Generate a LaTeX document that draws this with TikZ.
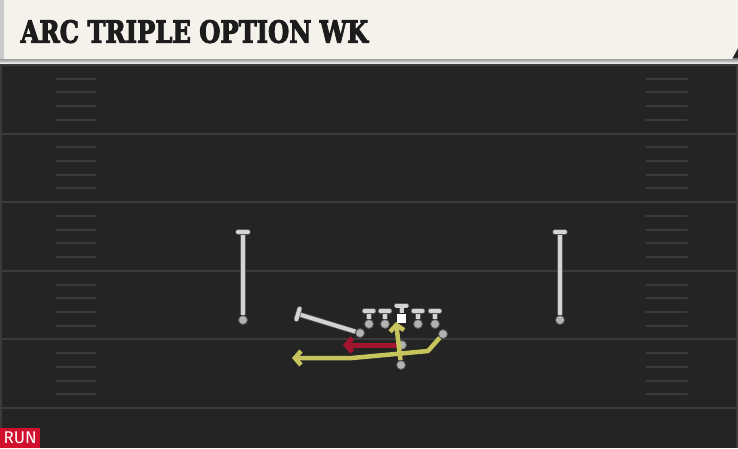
\documentclass[tikz,border=0pt]{standalone}
\usepackage{fontspec}
\newfontfamily\titlefont{DejaVu Serif}[FakeBold=3.5]
\newfontfamily\tagfont{Fira Sans}
\usetikzlibrary{arrows.meta,calc}
\definecolor{field}{HTML}{242424}
\definecolor{shade}{HTML}{161616}
\definecolor{yardline}{HTML}{3A3A3A}
\definecolor{cream}{HTML}{F5F2EB}
\definecolor{ink}{HTML}{1C1C1C}
\definecolor{chalk}{HTML}{D4D4D4}
\definecolor{rim}{HTML}{555555}
\definecolor{dot}{HTML}{B2B2B2}
\definecolor{runred}{HTML}{A3142F}
\definecolor{optyellow}{HTML}{C6C45C}
\definecolor{tagred}{HTML}{D0102C}
\tikzset{every node/.style={inner sep=0pt}, >={Straight Barb[length=6pt,width=14pt]},
  player/.style={circle, fill=dot, draw=rim, line width=0.8pt, minimum size=9pt},
  snap/.style={fill=white, minimum size=9pt},
  stem/.style={draw=rim, line width=5.5pt, postaction={draw=chalk, line width=4pt}},
  tcap/.style={draw=rim, line width=5.5pt, line cap=round, postaction={draw=chalk, line width=4pt}},
  yard/.style={yardline, line width=2pt},
  hash/.style={yardline, line width=2pt, line cap=round},
  runpath/.style={runred, line width=5pt},
  optpath/.style={optyellow, line width=4.5pt, line join=round}}

\begin{document}
\begin{tikzpicture}[x=1pt, y=-1pt]
  \useasboundingbox (0,0) rectangle (738,448);
  % field
  \fill[field] (0,0) rectangle (738,448);
  \fill[shade] (0,58) rectangle (738,64);
  \foreach \k in {0,...,5}
    \draw[yard] (0,65+68.6*\k) -- (738,65+68.6*\k);
  \foreach \k in {0,...,4}
    \foreach \h in {1,...,4} {
      \draw[hash] (56,65+68.6*\k+13.7*\h) -- (96,65+68.6*\k+13.7*\h);
      \draw[hash] (646,65+68.6*\k+13.7*\h) -- (687,65+68.6*\k+13.7*\h);
    }
  \fill[yardline] (0,64) rectangle (2,448);
  \fill[yardline] (736,64) rectangle (738,448);
  % header
  \fill[cream] (0,0) -- (738,0) -- (738,48) -- (732,59) -- (0,59) -- cycle;
  \fill[dot!70] (0,0) rectangle (3.5,59);
  \node[anchor=south west, text=ink] (title) at (20.5,43.3)
    {\resizebox{347.5pt}{22.6pt}{\titlefont\bfseries ARC TRIPLE OPTION WK}};
  \node[anchor=south west, fill=tagred, text=white, minimum width=40pt, minimum height=20pt,
    font=\tagfont\fontsize{17}{17}\selectfont] (runtag) at (0,448) {RUN};

  % receivers
  \node[player] (wrL) at (243,320) {};
  \node[player] (wrR) at (560,320) {};
  \coordinate (wrLtop) at (243,232);
  \coordinate (wrRtop) at (560,232);
  \draw[stem] (wrL.north) -- (wrLtop);
  \draw[stem] (wrR.north) -- (wrRtop);
  \draw[tcap] ($(wrLtop)+(-5,0)$) -- ($(wrLtop)+(5,0)$);
  \draw[tcap] ($(wrRtop)+(-5,0)$) -- ($(wrRtop)+(5,0)$);

  % line
  \foreach \x/\n in {369/lt,385/lg,418/rg,435/rt} {
    \node[player] (\n) at (\x,324) {};
    \draw[stem] (\n.north) -- (\x,311);
    \draw[tcap] (\x-4.5,311) -- (\x+4.5,311);
  }
  \node[snap] (ctr) at (401.5,318) {};
  \draw[stem] (ctr.north) -- (401.5,305.5);
  \draw[tcap] (396.5,305.5) -- (406.5,305.5);

  % slot
  \node[player] (slot) at (360,333) {};
  \coordinate (slotTop) at (298,314);
  \draw[stem] (slot) -- (slotTop);
  \draw[tcap] ($(slotTop)!5.5pt!90:(slot)$) -- ($(slotTop)!5.5pt!-90:(slot)$);

  % backs
  \node[player] (qb) at (402,345) {};
  \node[player] (rb) at (401,365) {};
  \node[player] (wing) at (443,334) {};
  \coordinate (qbEnd) at (343,345);
  \coordinate (dive) at (396,322);
  \coordinate (pitch) at (292,358);

  % routes
  \draw[runpath, ->] (qb.west) -- (qbEnd);
  \draw[optpath, ->] (rb) -- (dive);
  \draw[optpath, ->] (wing) -- (428,351) -- (352,358) -- (pitch);
\end{tikzpicture}
\end{document}
